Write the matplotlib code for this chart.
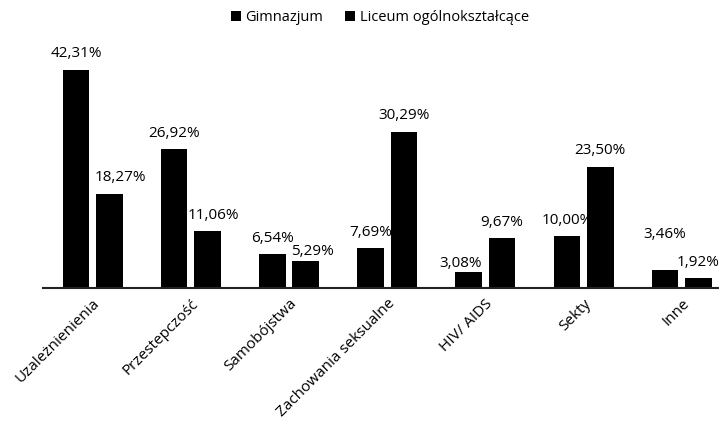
import matplotlib
matplotlib.use("Agg")
import matplotlib.pyplot as plt
import numpy as np

categories = ["Uzależnienienia", "Przestepczość", "Samobójstwa", "Zachowania seksualne",
              "HIV/ AIDS", "Sekty", "Inne"]
series_names = ["Gimnazjum", "Liceum ogólnokształcące"]
gimnazjum = [42.31, 26.92, 6.54, 7.69, 3.08, 10.00, 3.46]
liceum = [18.27, 11.06, 5.29, 30.29, 9.67, 23.50, 1.92]

plt.rcParams['font.family'] = ['Open Sans', 'DejaVu Sans']

fig = plt.figure(figsize=(7.19, 4.24), dpi=100)
ax = fig.add_axes([0.0605, 0.321, 0.956, 0.547])

x = np.arange(len(categories))
w = 0.27
off = 0.17
b1 = ax.bar(x - off, gimnazjum, w, color="black", label=series_names[0])
b2 = ax.bar(x + off, liceum, w, color="black", label=series_names[1])

def fmt(v):
    return f"{v:.2f}%".replace(".", ",")

# small label nudges (points) to mimic the original placement
g_dx = [0, 0, 0, 0, -6, 0, 0]
g_dy = [6, 6, 6, 6, 1, 6, 20]
l_dx = [8, 4, 5, 0, 0, 0, 0]
l_dy = [6, 6, 1, 6, 6, 6, 6]
for i, v in enumerate(gimnazjum):
    ax.annotate(fmt(v), (x[i] - off, v), xytext=(g_dx[i], g_dy[i]), textcoords="offset points",
                ha="center", va="bottom", fontsize=11)
for i, v in enumerate(liceum):
    ax.annotate(fmt(v), (x[i] + off, v), xytext=(l_dx[i], l_dy[i]), textcoords="offset points",
                ha="center", va="bottom", fontsize=11)

ax.set_xlim(-0.5, len(categories) - 0.5)
ax.set_ylim(0, 45)
ax.set_yticks([])
for s in ["top", "right", "left"]:
    ax.spines[s].set_visible(False)
ax.spines["bottom"].set_linewidth(1.5)
ax.spines["bottom"].set_color("#222222")
ax.set_xticks(x)
ax.set_xticklabels(categories, rotation=45, ha="right", rotation_mode="anchor", fontsize=11)
ax.tick_params(axis="x", length=0, pad=6)

fig.legend(handles=[b1, b2], labels=series_names, loc="center", bbox_to_anchor=(0.528, 0.958),
           ncol=2, frameon=False, fontsize=10.5, handlelength=0.7, handleheight=0.7,
           handletextpad=0.3, columnspacing=1.5)

fig.savefig("out.png", dpi=100)
